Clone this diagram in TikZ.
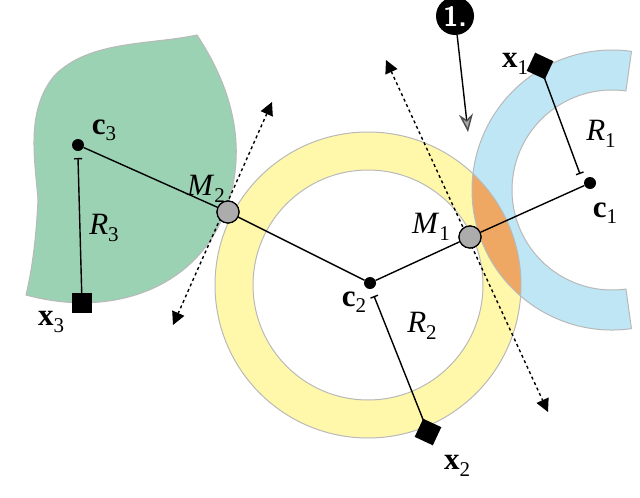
\documentclass[tikz,border=0pt]{standalone}
\usepackage{fontspec}
\setmainfont{Liberation Serif}
\usetikzlibrary{arrows.meta}
\definecolor{grn}{RGB}{155,210,180}
\definecolor{ylw}{RGB}{255,248,170}
\definecolor{blu}{RGB}{190,230,245}
\definecolor{org}{RGB}{238,168,100}
\newcommand{\bsub}[2]{\textbf{#1}\raisebox{-0.45ex}{\fontsize{21}{21}\selectfont #2}}
\newcommand{\isub}[2]{\textit{#1}\raisebox{-0.45ex}{\fontsize{21}{21}\selectfont #2}}
\begin{document}
\begin{tikzpicture}[x=1pt,y=-1pt,
  lab/.style={font=\fontsize{31}{31}\selectfont, inner sep=0pt},
  ctr/.style={circle,fill=black,inner sep=0pt,minimum size=12pt},
  mid/.style={circle,fill=gray!65,draw=black,line width=1.2pt,inner sep=0pt,minimum size=22pt},
  sq/.style={rectangle,fill=black,inner sep=0pt,minimum size=20pt},
  conn/.style={line width=1.4pt},
  rad/.style={line width=1.4pt,{Bar[width=8pt]}-},
  ringline/.style={gray!55,line width=1pt},
  tang/.style={dashed,line width=1.4pt,{Triangle[length=13pt,width=13pt]}-{Triangle[length=13pt,width=13pt]}}]
\useasboundingbox (0,0) rectangle (640,498);
% green blob
\def\blob{(197,35) .. controls (150,45) and (90,40) .. (55,75)
  .. controls (25,110) and (35,160) .. (38,200)
  .. controls (36,240) and (32,270) .. (26,295)
  .. controls (110,318) and (195,290) .. (225,212)
  .. controls (245,160) and (240,100) .. (197,35) -- cycle}
\fill[grn] \blob;
\draw[ringline] \blob;
% yellow ring
\fill[ylw,even odd rule] (368,285) circle (153) (368,285) circle (115);
% blue ring
\def\bluering{(612,190) ++(82:140) arc (82:278:140) -- ++(278:-40) arc (278:82:100) -- cycle}
\fill[blu] \bluering;
\begin{scope}
\clip \bluering;
\fill[org,even odd rule] (368,285) circle (153) (368,285) circle (115);
\end{scope}
\draw[ringline] (368,285) circle (153) (368,285) circle (115);
\draw[ringline] \bluering;
% nodes
\node[ctr] (c1) at (590,183) {};
\node[ctr] (c2) at (370,283) {};
\node[ctr] (c3) at (78,145) {};
\node[mid] (M1) at (470,237) {};
\node[mid] (M2) at (228,212) {};
\node[sq,rotate=-25] (x1) at (540,66) {};
\node[sq,rotate=-25] (x2) at (428,432) {};
\node[sq] (x3) at (82,303) {};
\coordinate (t1) at (580,174);
\coordinate (t2) at (374,296);
\coordinate (t3) at (78,158);
% connectors
\draw[conn] (c3) -- (M2) -- (c2) -- (M1) -- (c1);
\draw[rad] (t1) -- (x1.center);
\draw[rad] (t2) -- (x2.center);
\draw[rad] (t3) -- (x3.center);
\coordinate (a1) at (386,60); \coordinate (b1) at (548,412);
\coordinate (a2) at (272,102); \coordinate (b2) at (173,325);
\draw[tang] (a1) -- (b1);
\draw[tang] (a2) -- (b2);
\node[mid] at (M1) {};
\node[mid] at (M2) {};
% callout
\node[circle,fill=black,inner sep=0pt,minimum size=38pt,text=white,font=\fontsize{28}{28}\sffamily\bfseries] (one) at (455,16) {1.};
\coordinate (tip) at (468,132);
\draw[line width=1.4pt,-{Stealth[length=18pt,width=14pt,fill=gray!70,color=gray!60!black]}] (one) -- (tip);
% labels
\node[lab] at (104,130) {\bsub{c}{3}};
\node[lab] at (605,213) {\bsub{c}{1}};
\node[lab] at (354,302) {\bsub{c}{2}};
\node[lab] at (515,64) {\bsub{x}{1}};
\node[lab] at (457,466) {\bsub{x}{2}};
\node[lab] at (51,322) {\bsub{x}{3}};
\node[lab] at (104,228) {\isub{R}{3}};
\node[lab] at (601,134) {\isub{R}{1}};
\node[lab] at (422,326) {\isub{R}{2}};
\node[lab] at (431,227) {\isub{M}{1}};
\node[lab] at (206,189) {\isub{M}{2}};
\end{tikzpicture}
\end{document}
